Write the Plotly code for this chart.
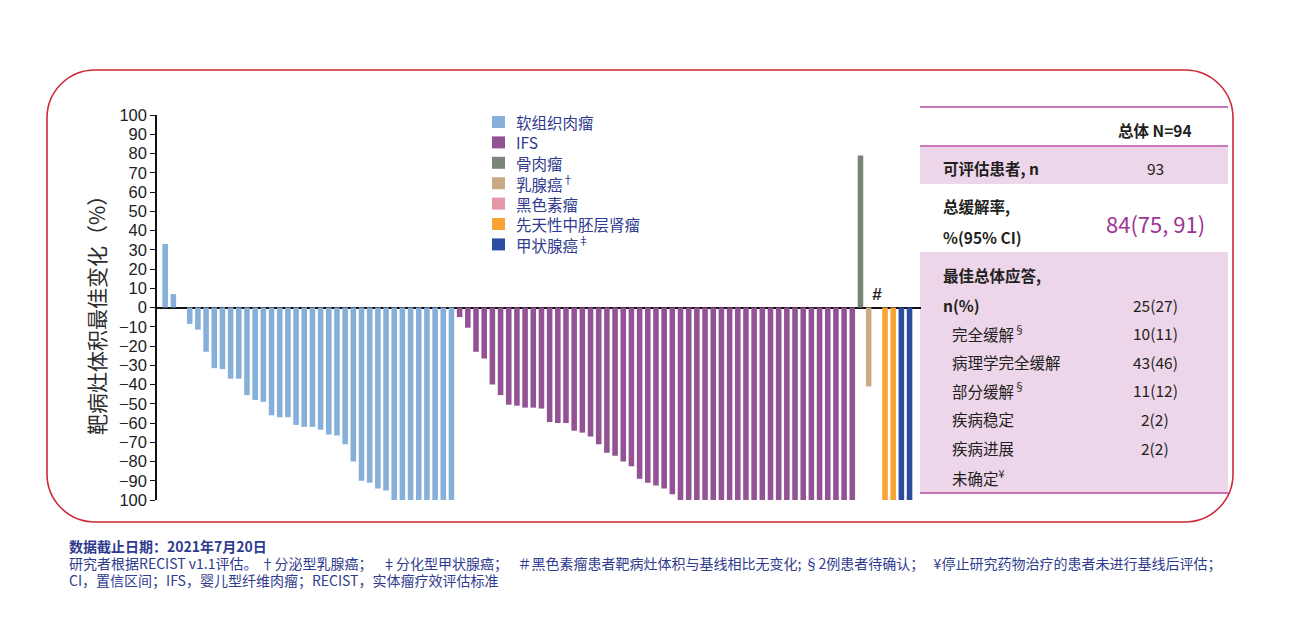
import plotly.graph_objects as go

# ---------------- data ----------------
categories = ["软组织肉瘤", "IFS", "骨肉瘤", "乳腺癌<sup>†</sup>", "黑色素瘤",
              "先天性中胚层肾瘤", "甲状腺癌<sup>‡</sup>"]
colors = ["#86b0da", "#935294", "#7b8479", "#c9aa86", "#e498a8", "#f7a233", "#2c4c9f"]

soft_tissue = [33, 7, 0, -8.5, -11.5, -23, -31.5, -32, -37, -37, -45.5, -48, -49,
               -56, -57, -57, -61, -62, -62, -63.5, -66, -66.5, -71, -80, -90, -91,
               -94, -95, -100, -100, -100, -100, -100, -100, -100, -100]
ifs = [-5, -10.5, -23, -26.5, -40, -45.5, -50.5, -51, -52, -52, -52.5, -59.5, -60,
       -60, -64, -65, -67, -71, -75.5, -77, -80, -82.5, -89, -91, -92.5, -94, -97,
       -100, -100, -100, -100, -100, -100, -100, -100, -100, -100, -100,
       -100, -100, -100, -100, -100, -100, -100, -100, -100, -100, -100]
osteosarcoma = [79]
breast = [-41]
melanoma = [0]
cmn = [-100, -100]
thyroid = [-100, -100]
series = [soft_tissue, ifs, osteosarcoma, breast, melanoma, cmn, thyroid]

y_ticks = list(range(100, -101, -10))
y_ticktext = ["100", "90", "80", "70", "60", "50", "40", "30", "20", "10", "0",
              "−10", "−20", "−30", "−40", "−50", "−60", "−70", "−80", "−90", "100"]

y_title = "靶病灶体积最佳变化（%）"

table_header = "总体 N=94"
table_rows = [
    ("可评估患者, n", "93", True),
    ("总缓解率,", "", True),
    ("%(95% CI)", "", True),
    ("最佳总体应答,", "", True),
    ("n(%)", "25(27)", True),
    ("完全缓解<sup>§</sup>", "10(11)", False),
    ("病理学完全缓解", "43(46)", False),
    ("部分缓解<sup>§</sup>", "11(12)", False),
    ("疾病稳定", "2(2)", False),
    ("疾病进展", "2(2)", False),
    ("未确定<sup>¥</sup>", "", False),
]
orr_text = "84(75, 91)"

footnotes = [
    "<b>数据截止日期：2021年7月20日</b>",
    "研究者根据RECIST v1.1评估。 †分泌型乳腺癌；\u00a0\u00a0\u00a0‡分化型甲状腺癌；\u00a0\u00a0\u00a0＃黑色素瘤患者靶病灶体积与基线相比无变化; §2例患者待确认；\u00a0\u00a0\u00a0¥停止研究药物治疗的患者未进行基线后评估；",
    "CI，置信区间；IFS，婴儿型纤维肉瘤；RECIST，实体瘤疗效评估标准",
]

# ---------------- layout helpers (reference pixel -> paper) ----------------
OFF = 8                       # page body margin in the browser
W, H = 1290 - OFF, 631 - OFF
L, R, T, B = 157, 921, 115, 500


def px(x):
    return (x - L) / (R - L)


def py(y):
    return (B - y) / (B - T)


def rrect_path(x0, y0, x1, y1, r):
    k = 0.5523 * r
    pts = [
        f"M{px(x0 + r)},{py(y0)}",
        f"L{px(x1 - r)},{py(y0)}",
        f"C{px(x1 - r + k)},{py(y0)} {px(x1)},{py(y0 + r - k)} {px(x1)},{py(y0 + r)}",
        f"L{px(x1)},{py(y1 - r)}",
        f"C{px(x1)},{py(y1 - r + k)} {px(x1 - r + k)},{py(y1)} {px(x1 - r)},{py(y1)}",
        f"L{px(x0 + r)},{py(y1)}",
        f"C{px(x0 + r - k)},{py(y1)} {px(x0)},{py(y1 - r + k)} {px(x0)},{py(y1 - r)}",
        f"L{px(x0)},{py(y0 + r)}",
        f"C{px(x0)},{py(y0 + r - k)} {px(x0 + r - k)},{py(y0)} {px(x0 + r)},{py(y0)}",
        "Z",
    ]
    return " ".join(pts)


CJK = "Noto Sans CJK SC"
NAVY = "#2f3b8e"

fig = go.Figure()

start = 0
for name, vals, col in zip(categories, series, colors):
    xs = list(range(start, start + len(vals)))
    fig.add_trace(go.Bar(x=xs, y=vals, name=name, marker=dict(color=col, line=dict(width=0)),
                         width=0.68, showlegend=False))
    start += len(vals)
n_total = start
mel_x = len(soft_tissue) + len(ifs) + len(osteosarcoma) + len(breast)

shapes = []
annotations = []

# red rounded border
shapes.append(dict(type="path", xref="paper", yref="paper", path=rrect_path(47, 70, 1233, 522, 48),
                   line=dict(color="#cc2a35", width=1.6), layer="below"))
# page edge line
shapes.append(dict(type="line", xref="paper", yref="paper", x0=px(1287), x1=px(1287),
                   y0=py(OFF), y1=py(631), line=dict(color="#e2e2e2", width=2)))

# manual legend (squares + labels)
for i, (name, col) in enumerate(zip(categories, colors)):
    cy = 122 + i * 20.4
    shapes.append(dict(type="rect", xref="paper", yref="paper", x0=px(492), x1=px(505),
                       y0=py(cy - 6), y1=py(cy + 6), fillcolor=col, line=dict(width=0)))
    annotations.append(dict(xref="paper", yref="paper", x=px(514), y=py(cy), text=name,
                            showarrow=False, xanchor="left", yanchor="middle",
                            font=dict(family=CJK, size=15.5, color=NAVY)))

# table shading
TX0, TX1 = 920, 1228
shade = "#edd5ea"
lc = "#b44b9f"
shapes.append(dict(type="rect", xref="paper", yref="paper", x0=px(TX0), x1=px(TX1),
                   y0=py(147), y1=py(184), fillcolor=shade, line=dict(width=0), layer="below"))
shapes.append(dict(type="rect", xref="paper", yref="paper", x0=px(TX0), x1=px(TX1),
                   y0=py(252), y1=py(493), fillcolor=shade, line=dict(width=0), layer="below"))
for yy in (107, 146, 493):
    shapes.append(dict(type="line", xref="paper", yref="paper", x0=px(TX0), x1=px(TX1),
                       y0=py(yy), y1=py(yy), line=dict(color=lc, width=1.5)))

# table text
TXT = "#231f20"
FS = 15.5
annotations.append(dict(xref="paper", yref="paper", x=px(1155), y=py(130), text=f"<b>{table_header}</b>",
                        showarrow=False, xanchor="center", yanchor="middle",
                        font=dict(family=CJK, size=FS, color=TXT)))
row_y = [168, 206, 237, 275, 305, 333, 362, 390, 419, 448, 477]
for (lab, val, bold), yy in zip(table_rows, row_y):
    xl = 941 if bold else 950
    t = f"<b>{lab}</b>" if bold else lab
    annotations.append(dict(xref="paper", yref="paper", x=px(xl), y=py(yy), text=t,
                            showarrow=False, xanchor="left", yanchor="middle",
                            font=dict(family=CJK, size=FS, color=TXT)))
    if val:
        annotations.append(dict(xref="paper", yref="paper", x=px(1155), y=py(yy), text=val,
                                showarrow=False, xanchor="center", yanchor="middle",
                                font=dict(family=CJK, size=FS, color=TXT)))
annotations.append(dict(xref="paper", yref="paper", x=px(1155), y=py(223), text=orr_text,
                        showarrow=False, xanchor="center", yanchor="middle",
                        font=dict(family=CJK, size=22, color="#9c3596")))

# y-axis title
annotations.append(dict(xref="paper", yref="paper", x=px(96), y=py(310), text=y_title,
                        textangle=-90, showarrow=False, xanchor="center", yanchor="middle",
                        font=dict(family=CJK, size=21, color="#2b2b2b")))

# '#' marker above melanoma slot
annotations.append(dict(x=mel_x, y=7, xref="x", yref="y", text="<b><i>#</i></b>", showarrow=False,
                        xanchor="center", yanchor="middle",
                        font=dict(family="Liberation Sans", size=17, color="#222")))

# footnotes
for txt, yy in zip(footnotes, [546, 563, 580]):
    annotations.append(dict(xref="paper", yref="paper", x=px(67), y=py(yy), text=txt,
                            showarrow=False, xanchor="left", yanchor="middle",
                            font=dict(family=CJK, size=14, color=NAVY)))

fig.update_layout(
    width=W, height=H,
    margin=dict(l=L - OFF, r=1290 - R, t=T - OFF, b=631 - B, pad=0),
    paper_bgcolor="white", plot_bgcolor="white",
    barmode="overlay",
    showlegend=False,
    xaxis=dict(range=[-1.0, n_total + 0.4], showticklabels=False, showgrid=False,
               zeroline=False, showline=False, ticks=""),
    yaxis=dict(range=[-100, 100], tickvals=y_ticks, ticktext=y_ticktext, showgrid=False,
               zeroline=True, zerolinecolor="#111", zerolinewidth=1.6,
               showline=True, linecolor="#111", linewidth=1.5,
               ticks="outside", ticklen=5, tickwidth=1.2, tickcolor="#111",
               tickfont=dict(family="Liberation Sans", size=16.5, color="#222")),
    shapes=shapes,
    annotations=annotations,
)

fig.write_html("out.html")
